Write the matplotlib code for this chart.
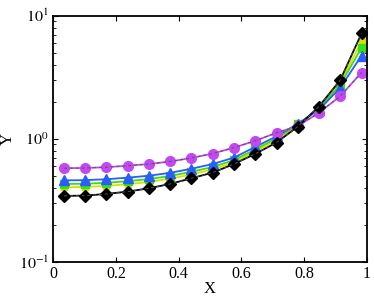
import matplotlib
matplotlib.use("Agg")
import matplotlib.pyplot as plt
from matplotlib.ticker import LogLocator, NullFormatter, FixedLocator

x = [0.035, 0.103, 0.170, 0.238, 0.306, 0.374, 0.441, 0.509, 0.577, 0.644, 0.712, 0.780, 0.847, 0.915, 0.983]
purple = [0.578, 0.580, 0.589, 0.605, 0.625, 0.655, 0.700, 0.760, 0.850, 0.965, 1.12, 1.27, 1.63, 2.22, 3.46]
blue = [0.460, 0.462, 0.470, 0.484, 0.502, 0.530, 0.572, 0.625, 0.705, 0.860, 1.05, 1.33, 1.72, 2.60, 4.75]
green = [0.430, 0.432, 0.440, 0.453, 0.472, 0.500, 0.540, 0.592, 0.672, 0.820, 1.01, 1.31, 1.76, 2.75, 5.50]
yellow = [0.405, 0.407, 0.415, 0.428, 0.447, 0.475, 0.514, 0.565, 0.645, 0.790, 0.98, 1.29, 1.78, 2.85, 6.20]
black = [0.344, 0.346, 0.357, 0.373, 0.397, 0.431, 0.479, 0.532, 0.626, 0.755, 0.934, 1.26, 1.83, 3.00, 7.20]

xticks = [0, 0.2, 0.4, 0.6, 0.8, 1]
xticklabels = ["0", "0.2", "0.4", "0.6", "0.8", "1"]

plt.rcParams['font.family'] = ['Liberation Serif', 'DejaVu Serif']
plt.rcParams['mathtext.fontset'] = 'stix'

fig = plt.figure(figsize=(3.74, 2.98), dpi=100)
ax = fig.add_axes([0.142, 0.121, 0.839, 0.826])

ax.plot(x, yellow, '-', color='#d8e000', lw=1.3, marker='s', ms=4, mec='#d8e000')
ax.plot(x, green, '-', color='#38e010', lw=1.3, marker='s', ms=5.5, mec='#38e010')
ax.plot(x, blue, '-', color='#2a5cff', lw=1.3, marker='^', ms=6.5, mec='#2a5cff')
ax.plot(x, purple, '-', color='#c448f2', lw=1.3, marker='o', ms=7, mec='#c448f2')
ax.plot(x, purple, '--', color='#555555', lw=0.7, dashes=(3, 3))
ax.plot(x, black, '-', color='black', lw=1.3, marker='D', ms=6)
ax.plot(x, black, '--', color='#555555', lw=0.7, dashes=(3, 3))

ax.set_yscale('log')
ax.set_xlim(0, 1)
ax.set_ylim(0.1, 10)
ax.set_xticks(xticks)
ax.set_xticklabels(xticklabels)
ax.yaxis.set_major_locator(FixedLocator([0.1, 1, 10]))
ax.yaxis.set_minor_locator(LogLocator(base=10, subs=range(2, 10)))
ax.yaxis.set_minor_formatter(NullFormatter())
ax.set_yticklabels([r'$10^{-1}$', r'$10^{0}$', r'$10^{1}$'])

ax.tick_params(which='both', direction='in', top=True, right=True, labelsize=11.5, pad=3)
ax.tick_params(which='major', length=3.5, width=0.8)
ax.tick_params(which='minor', length=2, width=0.6)
for s in ax.spines.values():
    s.set_linewidth(1.3)

ax.set_xlabel('X', fontsize=12, labelpad=-1)
ax.set_ylabel('Y', fontsize=12, labelpad=2)

fig.savefig('out.png', dpi=100)
